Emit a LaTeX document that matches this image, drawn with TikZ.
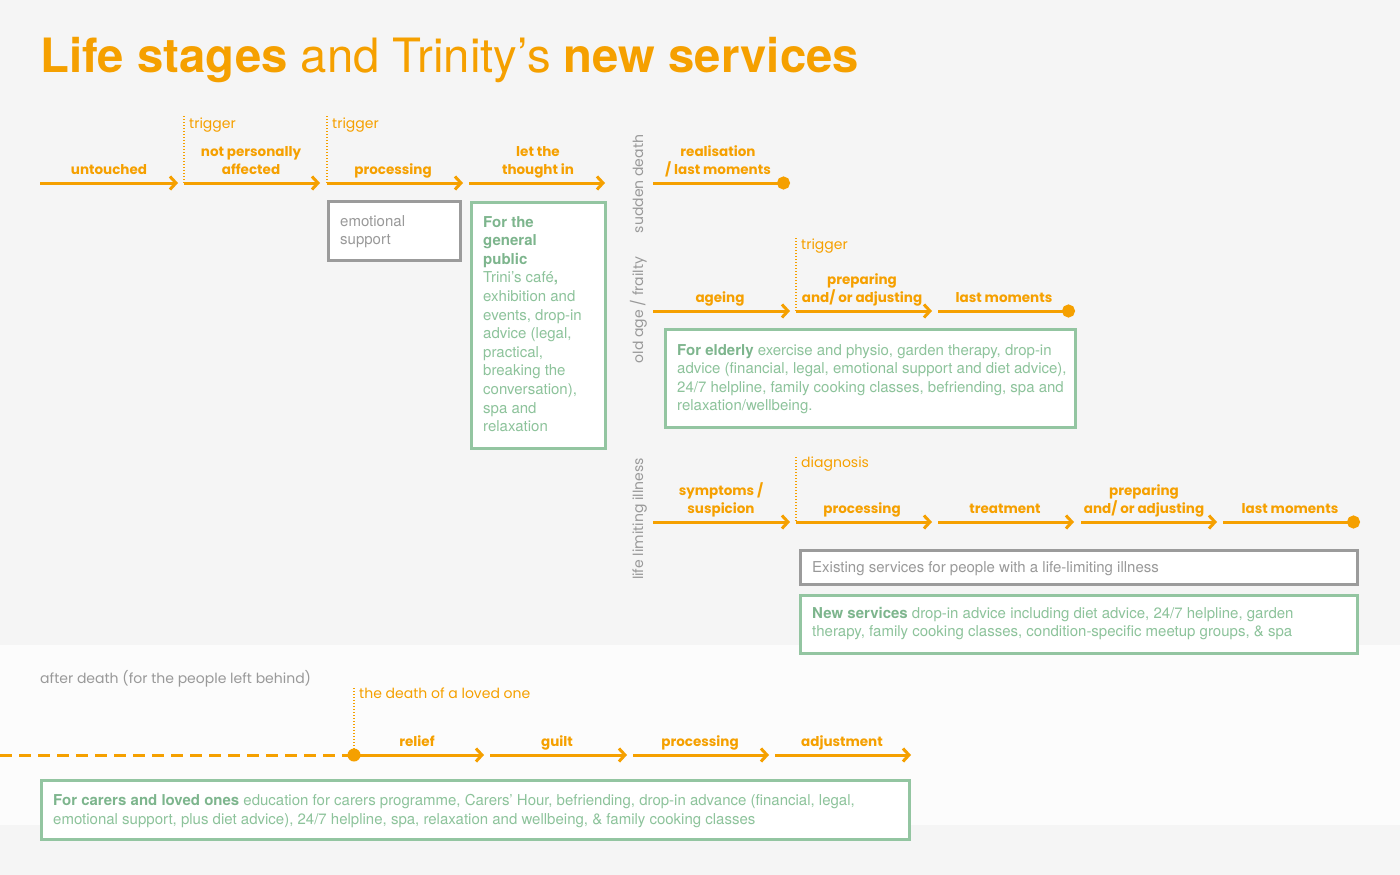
\documentclass[tikz,border=0pt]{standalone}
\usepackage{fontspec}
\setmainfont{TeX Gyre Heros}
\newfontfamily\geo{Poppins}
\usetikzlibrary{arrows.meta}

\definecolor{trorange}{HTML}{F5A000}
\definecolor{trgreen}{HTML}{93C5A1}
\definecolor{trgreentext}{HTML}{8DC39B}
\definecolor{trgreenbold}{HTML}{7DB58D}
\definecolor{trgrey}{HTML}{9B9B9B}
\definecolor{trgreytext}{HTML}{999999}
\definecolor{trback}{HTML}{F5F5F5}
\definecolor{trband}{HTML}{FCFCFC}

\tikzset{
  stage/.style={draw=trorange, line width=3pt, -{Straight Barb[length=6pt,width=13pt]}},
  laststage/.style={draw=trorange, line width=3pt, -{Circle[length=13pt]}},
  afterdeath/.style={draw=trorange, line width=3pt, dash pattern=on 12pt off 7pt},
  trigger/.style={draw=trorange, line width=1.4pt, dash pattern=on 1.4pt off 1.6pt},
  stagelabel/.style={font=\geo\bfseries\fontsize{13.5}{18}\selectfont, text=trorange, inner sep=0pt, align=center, anchor=base},
  triggerlabel/.style={font=\geo\fontsize{14}{18}\selectfont, text=trorange, inner sep=0pt, anchor=base west},
  pathlabel/.style={font=\geo\fontsize{14}{18}\selectfont, text=trgreytext, inner sep=0pt, rotate=90, anchor=base},
  greybox/.style={draw=trgrey, line width=3pt, fill=white, anchor=north west, inner sep=0pt},
  greenbox/.style={draw=trgreen, line width=3pt, fill=white, anchor=north west, inner sep=0pt},
  greytext/.style={font=\fontsize{15}{18.6}\selectfont, text=trgreytext, inner sep=0pt, align=left, anchor=north west},
  greentext/.style={font=\fontsize{15}{18.6}\selectfont, text=trgreentext, inner sep=0pt, align=left, anchor=north west},
}
\newcommand{\grbold}[1]{\textcolor{trgreenbold}{\bfseries #1}}

\begin{document}
\begin{tikzpicture}[x=1pt, y=-1pt]
%Background
\fill[trback] (0,0) rectangle (1400,875);
\fill[trband] (0,645) rectangle (1400,825);
\useasboundingbox (0,0) rectangle (1400,875);
%Title
\node[font=\fontsize{47.3}{50}\selectfont, text=trorange, inner sep=0pt, anchor=base west] (title) at (40,73)
  {\bfseries Life stages \mdseries and Trinity’s \bfseries new services};

%Everyone
\coordinate (g0) at (40,183);
\coordinate (g1) at (178,183);
\coordinate (g2) at (184,183);
\coordinate (g3) at (320,183);
\coordinate (g4) at (327,183);
\coordinate (g5) at (463,183);
\coordinate (g6) at (469,183);
\coordinate (g7) at (605,183);
\coordinate (gt1) at (184,116);
\coordinate (gt2) at (327,116);
\draw[stage] (g0) -- (g1);
\draw[stage] (g2) -- (g3);
\draw[stage] (g4) -- (g5);
\draw[stage] (g6) -- (g7);
\draw[trigger] (gt1) -- (g2);
\draw[trigger] (gt2) -- (g4);
\node[triggerlabel] (gtrigger1) at (189,128) {trigger};
\node[triggerlabel] (gtrigger2) at (332,128) {trigger};
\node[stagelabel] (untouched) at (109,174) {untouched};
\node[stagelabel] (notaffected) at (251,174) {not personally\\affected};
\node[stagelabel] (gprocessing) at (393,174) {processing};
\node[stagelabel] (thoughtin) at (538,174) {let the\\thought in};
\node[greybox, minimum width=132, minimum height=59] (emobox) at (327,200) {};
\node[greytext] (emotext) at ([xshift=13pt, yshift=-15pt]emobox.north west) {emotional\\support};
\node[greenbox, minimum width=134, minimum height=246] (publicbox) at (470,201) {};
\node[greentext] (publictext) at ([xshift=13pt, yshift=-15pt]publicbox.north west)
  {\grbold{For the}\\\grbold{general}\\\grbold{public}\\Trini's café\textbf{,}\\exhibition and\\events, drop-in\\advice (legal,\\practical,\\breaking the\\conversation),\\spa and\\relaxation};

%Sudden death
\node[pathlabel] (sudden) at (643,184) {sudden death};
\coordinate (s0) at (653,183);
\coordinate (s1) at (790,183);
\draw[laststage] (s0) -- (s1);
\node[stagelabel] (realisation) at (718,174) {realisation\\/ last moments};

%Old age
\node[pathlabel] (oldage) at (643,310) {old age / frailty};
\coordinate (o0) at (653,311);
\coordinate (o1) at (790,311);
\coordinate (o2) at (796,311);
\coordinate (o3) at (932,311);
\coordinate (o4) at (938,311);
\coordinate (o5) at (1075,311);
\coordinate (ot1) at (796,238);
\draw[stage] (o0) -- (o1);
\draw[stage] (o2) -- (o3);
\draw[laststage] (o4) -- (o5);
\draw[trigger] (ot1) -- (o2);
\node[triggerlabel] (otrigger) at (801,249) {trigger};
\node[stagelabel] (ageing) at (720,302) {ageing};
\node[stagelabel] (opreparing) at (862,302) {preparing\\and/ or adjusting};
\node[stagelabel] (olast) at (1004,302) {last moments};
\node[greenbox, minimum width=410, minimum height=98] (elderlybox) at (664,328) {};
\node[greentext] (elderlytext) at ([xshift=13pt, yshift=-16pt]elderlybox.north west)
  {\grbold{For elderly} exercise and physio, garden therapy, drop-in\\advice (financial, legal, emotional support and diet advice),\\24/7 helpline, family cooking classes, befriending, spa and\\relaxation/wellbeing.};

%Life limiting illness
\node[pathlabel] (illness) at (643,519) {life limiting illness};
\coordinate (i0) at (653,522);
\coordinate (i1) at (790,522);
\coordinate (i2) at (796,522);
\coordinate (i3) at (932,522);
\coordinate (i4) at (938,522);
\coordinate (i5) at (1074,522);
\coordinate (i6) at (1081,522);
\coordinate (i7) at (1217,522);
\coordinate (i8) at (1223,522);
\coordinate (i9) at (1360,522);
\coordinate (it1) at (796,457);
\draw[stage] (i0) -- (i1);
\draw[stage] (i2) -- (i3);
\draw[stage] (i4) -- (i5);
\draw[stage] (i6) -- (i7);
\draw[laststage] (i8) -- (i9);
\draw[trigger] (it1) -- (i2);
\node[triggerlabel] (diagnosis) at (801,467) {diagnosis};
\node[stagelabel] (symptoms) at (721,513) {symptoms /\\suspicion};
\node[stagelabel] (iprocessing) at (862,513) {processing};
\node[stagelabel] (treatment) at (1005,513) {treatment};
\node[stagelabel] (ipreparing) at (1144,513) {preparing\\and/ or adjusting};
\node[stagelabel] (ilast) at (1290,513) {last moments};
\node[greybox, minimum width=557, minimum height=34] (existingbox) at (799,549) {};
\node[greytext] (existingtext) at ([xshift=13pt, yshift=-12pt]existingbox.north west) {Existing services for people with a life-limiting illness};
\node[greenbox, minimum width=557, minimum height=58] (newbox) at (799,594) {};
\node[greentext] (newtext) at ([xshift=13pt, yshift=-13pt]newbox.north west)
  {\grbold{New services} drop-in advice including diet advice, 24/7 helpline, garden\\therapy, family cooking classes, condition-specific meetup groups, \& spa};

%After death
\node[font=\geo\fontsize{14}{18}\selectfont, text=trgreytext, inner sep=0pt, anchor=base west] (afterlabel) at (40,683) {after death (for the people left behind)};
\coordinate (a0) at (0,755);
\coordinate (a1) at (354,755);
\coordinate (a2) at (484,755);
\coordinate (a3) at (490,755);
\coordinate (a4) at (627,755);
\coordinate (a5) at (633,755);
\coordinate (a6) at (769,755);
\coordinate (a7) at (775,755);
\coordinate (a8) at (911,755);
\coordinate (at1) at (354,688);
\draw[afterdeath] (a0) -- (a1);
\fill[trorange] (a1) circle (6.5pt);
\draw[stage] (a1) -- (a2);
\draw[stage] (a3) -- (a4);
\draw[stage] (a5) -- (a6);
\draw[stage] (a7) -- (a8);
\draw[trigger] (at1) -- (a1);
\node[triggerlabel] (lovedone) at (359,698) {the death of a loved one};
\node[stagelabel] (relief) at (417,746) {relief};
\node[stagelabel] (guilt) at (557,746) {guilt};
\node[stagelabel] (aprocessing) at (700,746) {processing};
\node[stagelabel] (adjustment) at (842,746) {adjustment};
\node[greenbox, minimum width=868, minimum height=59] (carersbox) at (40,779) {};
\node[greentext] (carerstext) at ([xshift=13pt, yshift=-15pt]carersbox.north west)
  {\grbold{For carers and loved ones} education for carers programme, Carers' Hour, befriending, drop-in advance (financial, legal,\\emotional support, plus diet advice), 24/7 helpline, spa, relaxation and wellbeing, \& family cooking classes};
\end{tikzpicture}
\end{document}
